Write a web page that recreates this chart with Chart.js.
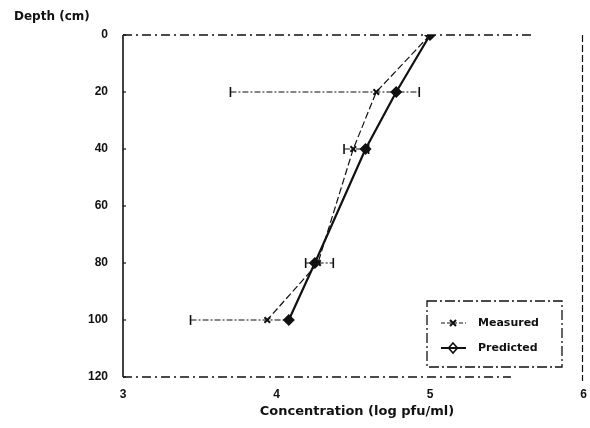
<!DOCTYPE html>
<html><head><meta charset="utf-8">
<script src="https://cdn.jsdelivr.net/npm/chart.js@4/dist/chart.umd.min.js"></script>
<style>html,body{margin:0;padding:0;background:#fff}#wrap{width:590px;height:428px}</style>
</head><body><div id="wrap"><canvas id="c" width="590" height="428"></canvas></div>
<script>
const depths = [0, 20, 40, 80, 100];
const measured = [5.0, 4.65, 4.50, 4.27, 3.94];
const measuredLow = [5.0, 3.70, 4.44, 4.19, 3.44];
const measuredHigh = [5.0, 4.93, 4.60, 4.37, 4.08];
const predicted = [5.0, 4.78, 4.58, 4.25, 4.08];
const xTicks = [3, 4, 5, 6];
const yTicks = [0, 20, 40, 60, 80, 100, 120];
const xTitle = 'Concentration (log pfu/ml)';
const yTitle = 'Depth (cm)';
const seriesNames = ['Measured', 'Predicted'];

const INK = '#111';
const tickFont = {family: 'Liberation Sans', weight: 'bold', size: 12};

const decor = {
  id: 'decor',
  beforeDatasetsDraw(chart) {
    const {ctx, chartArea: a, scales: {x, y}} = chart;
    ctx.save();
    ctx.strokeStyle = INK;
    // frame
    ctx.lineWidth = 1.6;
    ctx.setLineDash([]);
    ctx.beginPath(); ctx.moveTo(a.left, a.top); ctx.lineTo(a.left, a.bottom); ctx.stroke();
    ctx.lineWidth = 1.3;
    ctx.setLineDash([9, 4, 2, 4]);
    ctx.beginPath(); ctx.moveTo(a.left, a.top); ctx.lineTo(a.left + 408, a.top); ctx.stroke();
    ctx.beginPath(); ctx.moveTo(a.left, a.bottom); ctx.lineTo(a.left + 388, a.bottom); ctx.stroke();
    ctx.lineWidth = 1.2;
    ctx.setLineDash([7, 3]);
    ctx.beginPath(); ctx.moveTo(a.right - 1, a.top); ctx.lineTo(a.right - 1, a.bottom + 4); ctx.stroke();
    // small ticks on left axis
    ctx.setLineDash([]);
    ctx.lineWidth = 1.2;
    yTicks.forEach(v => { const py = y.getPixelForValue(v); ctx.beginPath(); ctx.moveTo(a.left, py); ctx.lineTo(a.left + 3, py); ctx.stroke(); });
    // error bars
    ctx.lineWidth = 1.2;
    depths.forEach((d, i) => {
      if (measuredLow[i] === measuredHigh[i]) return;
      const py = y.getPixelForValue(d);
      const x1 = x.getPixelForValue(measuredLow[i]);
      const x2 = x.getPixelForValue(measuredHigh[i]);
      ctx.setLineDash([6, 2, 2, 2]);
      ctx.beginPath(); ctx.moveTo(x1, py); ctx.lineTo(x2, py); ctx.stroke();
      ctx.setLineDash([]);
      ctx.lineWidth = 1.6;
      [x1, x2].forEach(px => { ctx.beginPath(); ctx.moveTo(px, py - 5); ctx.lineTo(px, py + 5); ctx.stroke(); });
      ctx.lineWidth = 1.2;
    });
    ctx.restore();
  },
  afterDraw(chart) {
    const {ctx} = chart;
    ctx.save();
    ctx.fillStyle = INK;
    ctx.textBaseline = 'middle';
    ctx.font = 'bold 12px "DejaVu Sans"';
    ctx.textAlign = 'left';
    ctx.fillText(yTitle, 14, 17);
    ctx.font = 'bold 13px "DejaVu Sans"';
    ctx.textAlign = 'center';
    ctx.fillText(xTitle, 357, 412);
    // legend
    const lx = 427, ly = 301, lw = 135, lh = 66;
    ctx.strokeStyle = INK;
    ctx.lineWidth = 1.3;
    ctx.setLineDash([10, 3, 2, 3]);
    ctx.strokeRect(lx, ly, lw, lh);
    ctx.setLineDash([]);
    const rows = [323, 348];
    // measured sample
    ctx.lineWidth = 1.2;
    ctx.setLineDash([4, 2]);
    ctx.beginPath(); ctx.moveTo(441, rows[0]); ctx.lineTo(466, rows[0]); ctx.stroke();
    ctx.setLineDash([]);
    ctx.lineWidth = 2;
    ctx.beginPath(); ctx.moveTo(450, rows[0] - 3); ctx.lineTo(456, rows[0] + 3); ctx.moveTo(456, rows[0] - 3); ctx.lineTo(450, rows[0] + 3); ctx.stroke();
    // predicted sample
    ctx.lineWidth = 2;
    ctx.beginPath(); ctx.moveTo(441, rows[1]); ctx.lineTo(466, rows[1]); ctx.stroke();
    ctx.lineWidth = 1.6;
    ctx.beginPath(); ctx.moveTo(453, rows[1] - 5); ctx.lineTo(457.5, rows[1]); ctx.lineTo(453, rows[1] + 5); ctx.lineTo(448.5, rows[1]); ctx.closePath(); ctx.stroke();
    ctx.font = 'bold 11px "DejaVu Sans"';
    ctx.textAlign = 'left';
    ctx.fillText(seriesNames[0], 478, rows[0]);
    ctx.fillText(seriesNames[1], 478, rows[1]);
    ctx.restore();
  }
};

new Chart(document.getElementById('c'), {
  type: 'scatter',
  data: {
    datasets: [
      {
        label: seriesNames[0],
        data: depths.map((d, i) => ({x: measured[i], y: d})),
        showLine: true,
        borderColor: INK,
        borderWidth: 1.2,
        borderDash: [7, 3],
        pointStyle: 'crossRot',
        pointRadius: 4,
        pointBorderWidth: 2,
        pointBorderColor: INK,
        pointBackgroundColor: INK,
        order: 2
      },
      {
        label: seriesNames[1],
        data: depths.map((d, i) => ({x: predicted[i], y: d})),
        showLine: true,
        borderColor: INK,
        borderWidth: 2.2,
        pointStyle: 'rectRot',
        pointRadius: 5,
        pointBorderWidth: 1.5,
        pointBorderColor: INK,
        pointBackgroundColor: INK,
        order: 1
      }
    ]
  },
  options: {
    animation: false,
    responsive: false,
    devicePixelRatio: 1,
    layout: {padding: {top: 35, right: 5, left: 0, bottom: 0}},
    plugins: {legend: {display: false}, tooltip: {enabled: false}},
    scales: {
      x: {
        type: 'linear', min: 3, max: 6,
        afterBuildTicks: s => { s.ticks = xTicks.map(v => ({value: v})); },
        afterFit: s => { s.height = 51; s.paddingRight = 5; s.paddingLeft = 0; },
        grid: {display: false, drawTicks: false},
        border: {display: false},
        ticks: {color: INK, font: tickFont, padding: 10, maxRotation: 0}
      },
      y: {
        type: 'linear', min: 0, max: 120, reverse: true,
        afterBuildTicks: s => { s.ticks = yTicks.map(v => ({value: v})); },
        afterFit: s => { s.width = 123; s.paddingTop = 0; s.paddingBottom = 0; },
        grid: {display: false, drawTicks: false},
        border: {display: false},
        ticks: {color: INK, font: tickFont, padding: 15}
      }
    }
  },
  plugins: [decor]
});
</script></body></html>
